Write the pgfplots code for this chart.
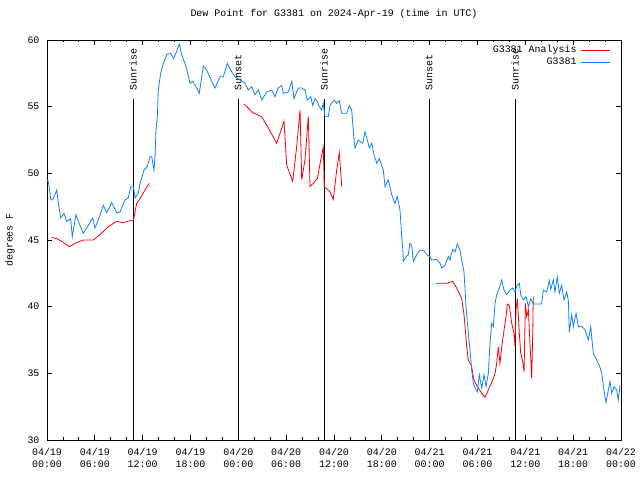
\documentclass[border=0pt]{standalone}
\usepackage{pgfplots}
\pgfplotsset{compat=1.18}
\usepackage{fontspec}
\setmainfont{Liberation Mono}
\definecolor{gblue}{RGB}{16,128,255}
\begin{document}
\begin{tikzpicture}
\path[use as bounding box] (-47bp,-40bp) rectangle (593bp,440bp);
\begin{axis}[
  at={(0,0)}, anchor=south west,
  scale only axis, width=574bp, height=400bp,
  xmin=0, xmax=72, ymin=30, ymax=60,
  font=\fontsize{10}{12}\selectfont,
  /pgf/number format/assume math mode=true,
  axis line style={line width=0.8bp},
  tick style={line width=0.8bp, black},
  tick align=inside,
  major tick length=5bp, minor tick length=2.5bp,
  xtick={0,6,...,72}, minor x tick num=2,
  ytick={30,35,...,60},
  xticklabels={{04/19\\00:00},{04/19\\06:00},{04/19\\12:00},{04/19\\18:00},{04/20\\00:00},{04/20\\06:00},{04/20\\12:00},{04/20\\18:00},{04/21\\00:00},{04/21\\06:00},{04/21\\12:00},{04/21\\18:00},{04/22\\00:00}},
  xticklabel style={align=center, yshift=-5bp},
  yticklabel style={xshift=-4bp},
  title={Dew Point for G3381 on 2024-Apr-19 (time in UTC)},
  title style={at={(rel axis cs:0.5,1)}, anchor=center, yshift=20bp},
  ylabel={degrees F},
  every axis y label/.style={at={(rel axis cs:0,0.5)}, xshift=-37bp, rotate=90, anchor=center},
  legend plot pos=right,
  legend cell align=right,
  legend image code/.code={\draw[#1] (0bp,0bp) -- (29bp,0bp);},
  legend style={at={(rel axis cs:1,1)}, anchor=north east, xshift=-10bp, yshift=-4bp,
    draw=none, fill=none, inner sep=0pt, column sep=3bp,
    nodes={inner sep=1.5bp, text height=7bp, text depth=2bp}},
]
% sunrise / sunset markers
\addplot[black, line width=0.8bp, forget plot] coordinates {(10.79,30) (10.79,55.6)};
\addplot[black, line width=0.8bp, forget plot] coordinates {(23.96,30) (23.96,55.6)};
\addplot[black, line width=0.8bp, forget plot] coordinates {(34.75,30) (34.75,55.6)};
\addplot[black, line width=0.8bp, forget plot] coordinates {(47.92,30) (47.92,55.6)};
\addplot[black, line width=0.8bp, forget plot] coordinates {(58.71,30) (58.71,55.6)};
\node[rotate=90, anchor=west, inner sep=0pt, xshift=1.5bp] at (axis cs:10.79,56.1) {Sunrise};
\node[rotate=90, anchor=west, inner sep=0pt, xshift=1.5bp] at (axis cs:23.96,56.1) {Sunset};
\node[rotate=90, anchor=west, inner sep=0pt, xshift=1.5bp] at (axis cs:34.75,56.1) {Sunrise};
\node[rotate=90, anchor=west, inner sep=0pt, xshift=1.5bp] at (axis cs:47.92,56.1) {Sunset};
\node[rotate=90, anchor=west, inner sep=0pt, xshift=1.5bp] at (axis cs:58.71,56.1) {Sunrise};
% analysis (red)
\addplot[red, line width=0.8bp] coordinates {
(0.59,45.2) (1.22,45.1) (1.84,44.9) (2.80,44.5) (3.51,44.75) (4.55,45.0) (5.81,45.0)
(6.65,45.4) (7.69,46.0) (8.74,46.4) (9.57,46.3) (10.41,46.45) (10.83,46.45) (11.25,47.75)
(11.67,48.1) (12.29,48.75) (12.83,49.25)};
\addlegendentry{G3381 Analysis}
\addplot[red, line width=0.8bp, forget plot] coordinates {
(24.71,55.2) (25.25,54.9) (25.80,54.55) (26.93,54.25) (27.76,53.4) (28.81,52.25) (29.73,53.9)
(30.07,50.6) (30.82,49.4) (31.32,52.0) (31.74,54.75) (31.95,49.5) (32.36,51.0) (32.78,54.25)
(32.99,49.0) (33.91,49.6) (34.33,51.0) (34.66,51.95) (34.78,49.0) (35.50,48.6) (35.91,48.05)
(36.34,50.25) (36.67,51.55) (36.97,49.0)};
\addplot[red, line width=0.8bp, forget plot] coordinates {
(48.80,41.75) (50.14,41.75) (50.89,41.9) (51.39,41.4) (52.02,40.6) (52.31,39.4) (52.65,37.0)
(52.85,36.0) (53.27,35.5) (53.56,34.5) (53.98,34.0) (54.53,33.5) (54.94,33.2) (55.36,33.75)
(55.91,34.5) (56.20,35.0) (56.41,35.75) (56.61,37.0) (56.82,35.75) (57.04,37.0) (57.33,38.25)
(57.58,39.25) (57.74,40.2) (57.99,40.1) (58.29,38.75) (58.58,38.0) (58.71,37.0) (58.83,39.75)
(59.00,40.6) (59.25,38.0) (59.42,36.5) (59.67,35.9) (59.84,35.1) (60.01,40.25) (60.18,39.25)
(60.38,39.75) (60.68,36.1) (60.80,34.6) (60.93,38.0) (61.00,40.75)};
% observations (blue)
\addplot[gblue, line width=0.8bp] coordinates {
(0.0,49.5) (0.16,49.4) (0.50,48.0) (0.79,48.1) (1.22,48.75) (1.42,47.8) (1.72,46.65) (2.13,47.0)
(2.47,46.4) (2.97,46.6) (3.17,45.25) (3.64,46.9) (3.93,46.4) (4.55,45.5) (5.18,46.1) (5.73,46.65)
(6.02,45.9) (6.44,46.5) (7.06,47.6) (7.49,47.05) (8.12,47.8) (8.74,47.05) (9.16,47.1) (9.78,48.0)
(10.20,48.15) (10.50,49.0) (10.83,49.0) (11.04,48.15) (11.45,48.5) (11.67,49.25) (12.17,50.25)
(12.58,50.5) (12.92,51.25) (13.13,51.25) (13.42,50.25) (13.55,51.25) (13.67,53.25) (13.84,54.25)
(13.96,56.25) (14.26,57.5) (14.59,58.25) (15.02,58.9) (15.52,59.0) (15.84,58.6) (16.18,59.0)
(16.60,59.7) (16.90,58.9) (17.44,58.0) (17.94,56.75) (18.28,56.9) (18.78,56.4) (19.10,56.0)
(19.61,58.05) (20.03,57.75) (20.66,56.9) (21.07,56.4) (21.70,57.25) (22.12,57.25) (22.62,58.25)
(23.17,57.6) (23.58,57.25) (24.21,57.0) (24.84,56.75) (25.25,56.25) (25.68,56.5) (26.09,55.9)
(26.51,56.25) (26.93,55.5) (27.56,56.1) (28.19,56.25) (28.60,55.75) (29.01,56.4) (29.44,56.6)
(29.64,56.0) (30.27,56.1) (30.70,56.9) (30.98,55.6) (31.52,56.4) (31.95,56.4) (32.36,56.25)
(32.65,55.5) (33.08,55.75) (33.33,55.1) (33.62,55.6) (33.91,55.4) (34.16,55.0) (34.46,54.75)
(34.66,55.25) (34.87,54.25) (35.29,54.25) (35.50,55.1) (36.00,55.5) (36.34,55.25) (36.67,55.45)
(36.97,54.5) (37.59,54.5) (37.92,55.1) (38.22,54.75) (38.51,52.5) (38.64,51.9) (39.05,52.5)
(39.60,52.25) (39.89,53.1) (40.18,52.5) (40.43,51.9) (40.73,52.25) (41.02,51.4) (41.36,50.75)
(41.68,51.1) (42.19,50.25) (42.40,49.0) (42.81,49.5) (43.24,48.4) (43.65,47.75) (43.94,48.25)
(44.28,47.25) (44.49,45.25) (44.62,44.4) (44.70,43.4) (45.03,43.75) (45.32,43.9) (45.53,44.75)
(45.75,44.6) (45.95,43.4) (46.38,43.9) (46.79,44.25) (47.29,44.2) (47.63,43.9) (48.04,43.75)
(48.26,43.5) (48.88,43.55) (49.30,43.25) (49.51,42.9) (49.93,43.1) (50.34,43.75) (50.55,43.5)
(50.89,44.3) (51.18,44.1) (51.47,44.7) (51.81,44.25) (52.02,43.5) (52.31,42.6) (52.56,40.0)
(52.85,38.0) (53.06,36.75) (53.27,35.25) (53.48,34.25) (53.81,33.75) (53.98,33.6) (54.23,34.9)
(54.53,33.9) (54.82,34.9) (55.07,34.0) (55.36,35.0) (55.57,37.25) (55.78,38.75) (55.98,38.5)
(56.20,40.25) (56.41,40.9) (56.74,41.4) (57.04,42.0) (57.33,41.25) (57.66,40.9) (58.08,41.25)
(58.42,41.4) (58.71,41.1) (58.92,41.55) (59.25,41.75) (59.42,40.9) (59.75,40.5) (60.09,40.75)
(60.38,40.0) (60.68,40.6) (61.00,40.2) (62.05,40.2) (62.26,41.25) (62.68,41.1) (63.01,41.95)
(63.18,41.3) (63.51,42.0) (63.72,41.1) (64.01,42.25) (64.26,41.0) (64.56,41.6) (64.85,40.5)
(65.19,41.1) (65.39,40.5) (65.52,38.1) (65.82,39.4) (66.02,38.5) (66.36,39.5) (66.65,38.5)
(67.07,38.55) (67.49,38.25) (67.90,37.5) (68.20,38.5) (68.53,36.5) (68.95,36.0) (69.28,35.6)
(69.58,35.0) (69.87,33.75) (70.12,32.8) (70.41,33.75) (70.62,34.4) (70.83,33.5) (71.12,34.0)
(71.46,33.75) (71.66,33.0) (71.88,34.1)};
\addlegendentry{G3381}
\end{axis}
\end{tikzpicture}
\end{document}
